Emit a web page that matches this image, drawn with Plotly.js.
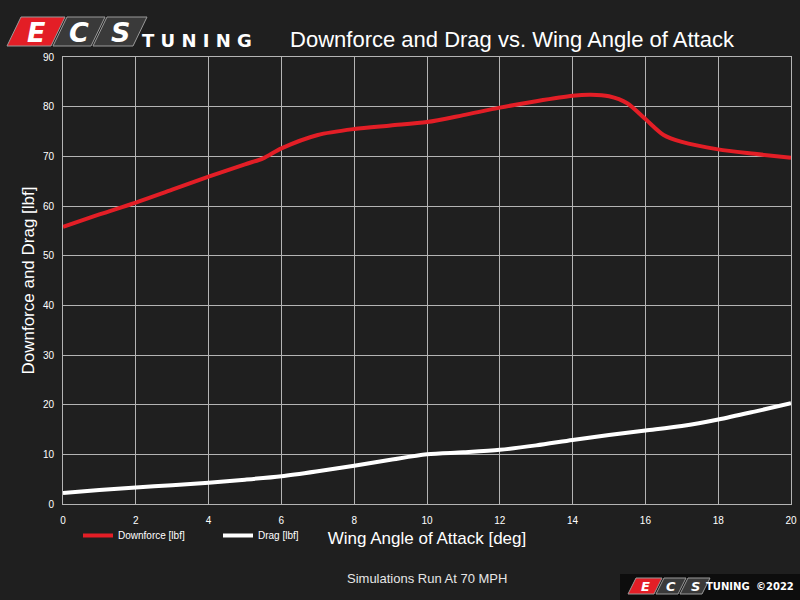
<!DOCTYPE html>
<html><head><meta charset="utf-8">
<script src="https://cdn.plot.ly/plotly-3.0.1.min.js"></script>
<style>html,body{margin:0;padding:0;background:#1f1f1f;}#chart{width:800px;height:600px;}</style>
</head><body><div id="chart"></div>
<script>
const angle = [0,1,2,3,4,5,5.5,6,7,8,9,10,11,12,13,14,14.5,15,15.5,16,16.5,17,18,19,20];
const downforce = [55.8,58.3,60.7,63.3,65.9,68.4,69.6,71.6,74.3,75.5,76.2,76.9,78.3,79.8,81.1,82.2,82.4,82.1,80.7,77.5,74.3,72.9,71.4,70.5,69.7];
const dragAngle = [0,1,2,3,4,5,6,7,8,9,10,11,12,13,14,15,16,17,18,19,20];
const drag = [2.2,2.8,3.3,3.8,4.3,4.9,5.6,6.6,7.7,8.9,10.0,10.4,10.9,11.8,12.9,13.9,14.8,15.7,17.0,18.6,20.3];
const xTicks = [0,2,4,6,8,10,12,14,16,18,20];
const yTicks = [0,10,20,30,40,50,60,70,80,90];

const bg = '#1f1f1f';
const sans = 'Liberation Sans, Arial, sans-serif';
const traces = [
  {x: angle, y: downforce, name: 'Downforce [lbf]', type: 'scatter', mode: 'lines',
   line: {color: '#e31e26', width: 4, shape: 'spline', smoothing: 0.8}},
  {x: dragAngle, y: drag, name: 'Drag [lbf]', type: 'scatter', mode: 'lines',
   line: {color: '#ffffff', width: 4, shape: 'spline', smoothing: 0.8}}
];

function px2paperX(px){ return (px - 63) / 728; }
function px2paperY(py){ return (504 - py) / 447; }

const layout = {
  width: 800, height: 600,
  paper_bgcolor: bg, plot_bgcolor: bg,
  margin: {l: 63, r: 9, t: 57, b: 96},
  font: {family: sans, color: '#ffffff'},
  title: {text: 'Downforce and Drag vs. Wing Angle of Attack', x: 0.64, xanchor: 'center', y: 0.935, yanchor: 'middle',
          font: {size: 22, color: '#ffffff', family: sans}},
  xaxis: {range: [0, 20], tickvals: xTicks, ticktext: xTicks.map(String), showgrid: true,
          gridcolor: '#b4b4b4', gridwidth: 1, zeroline: false, showline: true, linecolor: '#b4b4b4', mirror: true,
          ticks: '', ticklen: 0, ticklabelstandoff: 7, tickfont: {size: 10, color: '#ffffff', family: sans},
          title: {text: 'Wing Angle of Attack [deg]', standoff: 7, font: {size: 17, color: '#ffffff'}}},
  yaxis: {range: [0, 90], tickvals: yTicks, ticktext: yTicks.map(String), showgrid: true,
          gridcolor: '#b4b4b4', gridwidth: 1, zeroline: false, showline: true, linecolor: '#b4b4b4', mirror: true,
          ticks: '', ticklen: 0, ticklabelstandoff: 6, tickfont: {size: 10, color: '#ffffff', family: sans},
          title: {text: 'Downforce and Drag [lbf]', standoff: 3, font: {size: 17, color: '#ffffff'}}},
  showlegend: true,
  legend: {orientation: 'h', x: px2paperX(78), y: px2paperY(521), xanchor: 'left', yanchor: 'top', bgcolor: 'rgba(0,0,0,0)',
           font: {size: 10, color: '#ffffff', family: sans}, itemwidth: 30, entrywidth: 95},
  annotations: [
    {text: 'Simulations Run At 70 MPH', xref: 'paper', yref: 'paper', x: px2paperX(427), y: px2paperY(578), xanchor: 'center', yanchor: 'middle',
     showarrow: false, font: {size: 13, color: '#e6e6e6'}},
    {text: '<b>T U N I N G</b>', xref: 'paper', yref: 'paper', x: px2paperX(140), y: px2paperY(40), xanchor: 'left', yanchor: 'middle', showarrow: false,
     font: {size: 18, color: '#ffffff', family: 'DejaVu Sans, sans-serif'}},
    {text: '<b>TUNING</b>  <b>©2022</b>', xref: 'paper', yref: 'paper', x: px2paperX(796), y: px2paperY(586), xanchor: 'right', yanchor: 'middle', showarrow: false,
     font: {size: 10, color: '#ffffff', family: 'DejaVu Sans, sans-serif'}}
  ]
};

// Logo letter blocks (decorative, paper coordinates)
function para(x0, x1, y0, y1, fill, s){
  return {type: 'path', xref: 'paper', yref: 'paper',
    path: 'M ' + px2paperX(x0 + s) + ' ' + px2paperY(y0) + ' L ' + px2paperX(x1 + s) + ' ' + px2paperY(y0) +
          ' L ' + px2paperX(x1 - s) + ' ' + px2paperY(y1) + ' L ' + px2paperX(x0 - s) + ' ' + px2paperY(y1) + ' Z',
    fillcolor: fill, line: {color: '#9a9a9a', width: 1}};
}
layout.shapes = [
  {type: 'rect', xref: 'paper', yref: 'paper', x0: px2paperX(620), x1: px2paperX(800), y0: px2paperY(600), y1: px2paperY(574),
   fillcolor: '#0d0d0d', line: {width: 0}, layer: 'below'},
  para(14, 58, 17, 46, '#e31e26', 7),
  para(60, 98, 17, 46, '#3a3a3a', 7),
  para(100, 140, 17, 46, '#3a3a3a', 7),
  para(632, 658, 578, 594, '#e31e26', 4),
  para(660, 682, 578, 594, '#3a3a3a', 4),
  para(684, 706, 578, 594, '#3a3a3a', 4)
];
const letters = [['E', 36], ['C', 79], ['S', 120]];
letters.forEach(l => layout.annotations.push({text: '<b><i>' + l[0] + '</i></b>', xref: 'paper', yref: 'paper',
  x: px2paperX(l[1]), y: px2paperY(32), xanchor: 'center', yanchor: 'middle', showarrow: false,
  font: {size: 27, color: '#ffffff', family: 'DejaVu Sans, sans-serif'}}));
const small = [['E', 645], ['C', 671], ['S', 695]];
small.forEach(l => layout.annotations.push({text: '<b><i>' + l[0] + '</i></b>', xref: 'paper', yref: 'paper',
  x: px2paperX(l[1]), y: px2paperY(586), xanchor: 'center', yanchor: 'middle', showarrow: false,
  font: {size: 13, color: '#ffffff', family: 'DejaVu Sans, sans-serif'}}));

Plotly.newPlot('chart', traces, layout, {displayModeBar: false, staticPlot: true});
</script></body></html>
